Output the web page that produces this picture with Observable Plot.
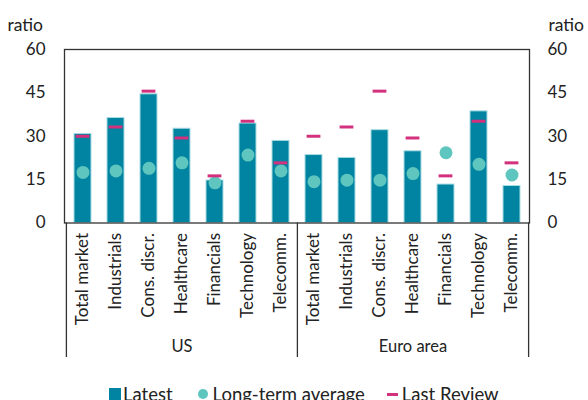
<!DOCTYPE html>
<html>
<head>
<meta charset="utf-8">
<script src="https://cdn.jsdelivr.net/npm/d3@7"></script>
<script src="https://cdn.jsdelivr.net/npm/@observablehq/plot@0.6"></script>
<style>
  html, body { margin: 0; padding: 0; background: #fff; overflow: hidden; }
  body { position: relative; width: 588px; height: 400px; font-family: Lato, sans-serif; }
  #legend { position: absolute; left: 109px; top: 384px; display: flex; align-items: center; font-size: 18.5px; color: #222; white-space: nowrap; line-height: 20px; }
  .item { display: flex; align-items: center; }
  .sw { display: inline-block; }
</style>
</head>
<body>
<div id="chart"></div>
<div id="legend"></div>
<script>
const sectors = ["Total market", "Industrials", "Cons. discr.", "Healthcare", "Financials", "Technology", "Telecomm."];
const regions = ["US", "Euro area"];
const latestUS = [30.8, 36.3, 44.5, 32.6, 14.7, 34.4, 28.4];
const latestEA = [23.5, 22.5, 32.1, 24.8, 13.3, 38.6, 12.8];
const longTermUS = [17.5, 18.0, 18.9, 20.8, 13.9, 23.5, 18.0];
const longTermEA = [14.3, 14.8, 14.8, 17.1, 24.3, 20.3, 16.6];
const lastReviewUS = [30.0, 33.2, 45.6, 29.4, 16.3, 35.2, 20.8];
const lastReviewEA = [30.0, 33.2, 45.6, 29.4, 16.3, 35.2, 20.8];
const yTicks = [0, 15, 30, 45, 60];

const colors = { latest: "#0084a1", longTerm: "#5ec6bf", lastReview: "#d3307d" };

const rows = [];
regions.forEach((reg, r) => {
  const L = r === 0 ? latestUS : latestEA;
  const A = r === 0 ? longTermUS : longTermEA;
  const R = r === 0 ? lastReviewUS : lastReviewEA;
  sectors.forEach((s, i) => rows.push({ key: reg + "|" + s, region: reg, sector: s, latest: L[i], longTerm: A[i], lastReview: R[i] }));
});
const keys = rows.map(d => d.key);

const W = 588, H = 374;
const mL = 64, mR = 59, mT = 49, mB = H - 222.5;
const step = (W - mL - mR) / keys.length;

const groupStarts = regions.map(reg => keys.find(k => k.startsWith(reg + "|")));
const groupMids = regions.map(reg => keys.filter(k => k.startsWith(reg + "|"))[3]);

const chart = Plot.plot({
  width: W, height: H,
  marginLeft: mL, marginRight: mR, marginTop: mT, marginBottom: mB,
  style: { fontFamily: "Lato, sans-serif", fontSize: "16px", color: "#222", background: "white" },
  x: { domain: keys, padding: 0, axis: null },
  y: { domain: [0, 60], axis: null },
  marks: [
    Plot.barY(rows, { x: "key", y: "latest", fill: colors.latest, stroke: "#a9dbe3", strokeWidth: 1, insetLeft: 8, insetRight: 8 }),
    Plot.dot(rows, { x: "key", y: "longTerm", r: 6.5, fill: colors.longTerm }),
    Plot.tickY(rows, { x: "key", y: "lastReview", stroke: colors.lastReview, strokeWidth: 3, insetLeft: 9.6, insetRight: 9.6 }),
    Plot.frame({ stroke: "#333", strokeWidth: 1.3 }),
    Plot.axisY({ anchor: "left", ticks: yTicks, tickSize: 0, tickPadding: 19, label: null, fontSize: 17 }),
    Plot.axisY({ anchor: "right", ticks: yTicks, tickSize: 0, tickPadding: 18, label: null, fontSize: 17 }),
    Plot.axisX({ anchor: "bottom", tickSize: 0, tickPadding: 10, tickRotate: -90, label: null, tickFormat: k => k.split("|")[1], fontSize: 17 }),
    Plot.ruleX(groupStarts, { x: d => d, y1: 0, y2: 0, dx: -step / 2, insetBottom: -134.5, stroke: "#333", strokeWidth: 1.3 }),
    Plot.ruleX([keys[keys.length - 1]], { x: d => d, y1: 0, y2: 0, dx: step / 2, insetBottom: -134.5, stroke: "#333", strokeWidth: 1.3 }),
    Plot.text(regions, { x: (d, i) => groupMids[i], y: () => 0, dy: 124, text: d => d, fontSize: 16.5 }),
    Plot.text(["ratio"], { frameAnchor: "top-left", dx: -57, dy: -31, textAnchor: "start", fontSize: 17.5 }),
    Plot.text(["ratio"], { frameAnchor: "top-right", dx: 19, dy: -31, textAnchor: "start", fontSize: 17.5 })
  ]
});
document.getElementById("chart").appendChild(chart);

const legendItems = [
  { label: "Latest", gap: 0, sw: `<span class="sw" style="width:12px;height:12px;margin-right:2px;background:${colors.latest}"></span>` },
  { label: "Long-term average", gap: 25, sw: `<span class="sw" style="width:10px;height:10px;margin-right:5px;border-radius:50%;background:${colors.longTerm}"></span>` },
  { label: "Last Review", gap: 22, sw: `<span class="sw" style="width:11px;height:3px;margin-right:4px;background:${colors.lastReview}"></span>` }
];
document.getElementById("legend").innerHTML = legendItems.map(d => `<span class="item" style="margin-left:${d.gap}px">${d.sw}<span>${d.label}</span></span>`).join("");
</script>
</body>
</html>
